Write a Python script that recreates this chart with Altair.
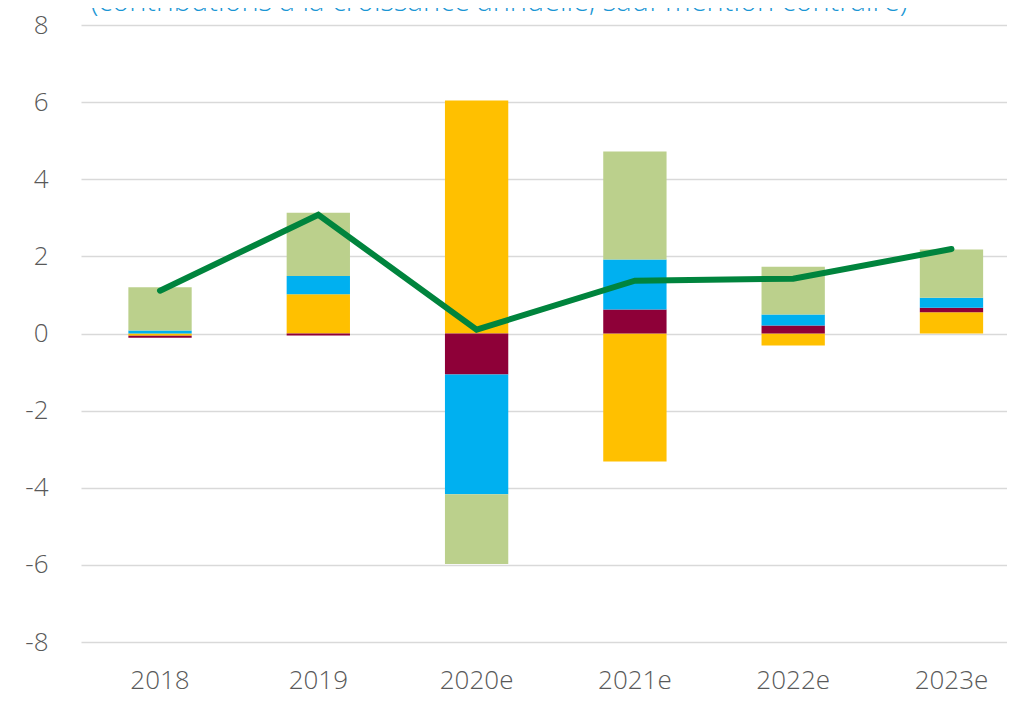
import altair as alt
import pandas as pd

years = ["2018", "2019", "2020e", "2021e", "2022e", "2023e"]
series = ["Composante 1", "Composante 2", "Composante 3", "Composante 4"]
comp1 = [-0.06, 1.02, 6.04, -3.32, -0.31, 0.55]   # jaune
comp2 = [-0.05, -0.05, -1.06, 0.62, 0.21, 0.12]   # bordeaux
comp3 = [0.08, 0.47, -3.11, 1.30, 0.28, 0.26]     # bleu
comp4 = [1.12, 1.64, -1.81, 2.80, 1.24, 1.25]     # vert clair
total = [1.11, 3.08, 0.10, 1.37, 1.42, 2.19]      # ligne verte
colors = ["#FFC000", "#8E0038", "#00B0F0", "#BBD08C"]
y_ticks = [-8, -6, -4, -2, 0, 2, 4, 6, 8]
subtitle = "(contributions à la croissance annuelle, sauf mention contraire)"

rows = []
for k, (name, vals) in enumerate(zip(series, [comp1, comp2, comp3, comp4])):
    for y, v in zip(years, vals):
        rows.append({"annee": y, "serie": name, "valeur": v, "ordre": k})
bars_df = pd.DataFrame(rows)
line_df = pd.DataFrame({"annee": years, "total": total})

FONT = "Open Sans"

xscale = alt.Scale(domain=years, paddingInner=0.6, paddingOuter=0.225, align=0.665)
yscale = alt.Scale(domain=[-8, 8], nice=False)

bars = alt.Chart(bars_df).mark_bar().encode(
    x=alt.X("annee:N", scale=xscale, sort=years,
            axis=alt.Axis(title=None, labelAngle=0, domain=False, ticks=False,
                          labelBaseline="alphabetic", labelPadding=46,
                          labelFontSize=26, labelColor="#595959",
                          labelFont=FONT, labelFontWeight=300)),
    y=alt.Y("valeur:Q", scale=yscale, stack="zero",
            axis=alt.Axis(title=None, values=y_ticks,
                          labelExpr="'' + datum.value",
                          domain=False, ticks=False, labelPadding=33,
                          labelFontSize=26, labelColor="#595959", labelFont=FONT,
                          labelFontWeight=300, gridColor="#D9D9D9", gridWidth=1.5)),
    color=alt.Color("serie:N", scale=alt.Scale(domain=series, range=colors), legend=None),
    order=alt.Order("ordre:Q"),
)

line = alt.Chart(line_df).mark_line(color="#00843D", strokeWidth=6, strokeCap="round").encode(
    x=alt.X("annee:N", scale=xscale, sort=years),
    y=alt.Y("total:Q", scale=yscale),
)

title = alt.Chart(pd.DataFrame({"t": [subtitle]})).mark_text(
    fontSize=29, font=FONT, fontWeight=300, color="#1A96D4", align="center",
    baseline="alphabetic"
).encode(text="t:N", x=alt.value(418), y=alt.value(-14))

chart = alt.layer(bars, line, title).properties(
    width=926, height=617,
    autosize=alt.AutoSizeParams(type="none"),
    padding={"left": 73, "top": 17, "right": 0, "bottom": 54},
).configure_view(stroke=None)

chart.save("out.html", embed_options={"renderer": "svg", "actions": False})
